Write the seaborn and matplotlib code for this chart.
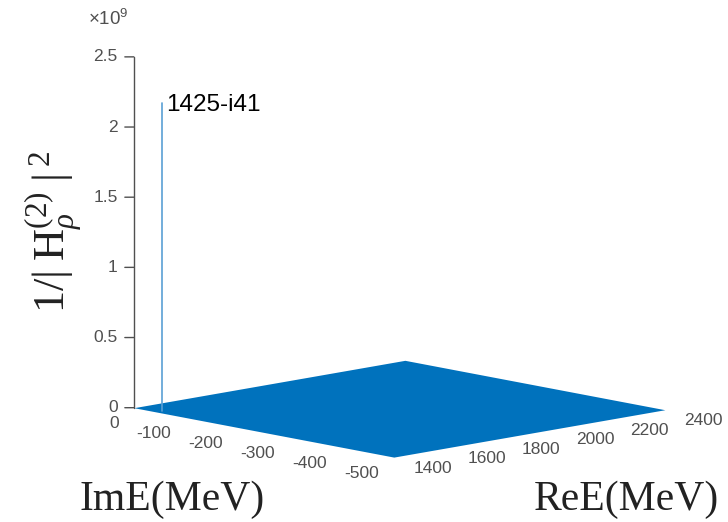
import numpy as np
import matplotlib
matplotlib.use("Agg")
import matplotlib.pyplot as plt
import seaborn as sns

# ---- data ----
re_grid = [1400, 2400]            # ReE (MeV) extent of the surface
im_grid = [0, -500]               # ImE (MeV) extent of the surface
floor_z = [[0.0, 0.0], [0.0, 0.0]]  # |1/H|^2 away from the pole (~0 on this scale)
pole_re = [1425]
pole_im = [-41]
pole_height = [2.19e9]
pole_label = ["1425-i41"]
im_ticks = [0, -100, -200, -300, -400, -500]
re_ticks = [1400, 1600, 1800, 2000, 2200, 2400]
z_ticks = [0, 0.5e9, 1.0e9, 1.5e9, 2.0e9, 2.5e9]
z_ticklabels = ["0", "0.5", "1", "1.5", "2", "2.5"]

sns.set_theme(style="white")
plt.rcParams["font.family"] = ["Liberation Sans", "DejaVu Sans"]
plt.rcParams["mathtext.fontset"] = "custom"
plt.rcParams["mathtext.rm"] = "Liberation Serif"
plt.rcParams["mathtext.it"] = "Liberation Serif:italic"
plt.rcParams["mathtext.bf"] = "Liberation Serif:bold"
plt.rcParams["mathtext.sf"] = "Liberation Sans"

surf_color = "#0072BD"
spike_color = "#5a9fd4"
grey = "#505050"
dark = "#222222"

fig = plt.figure(figsize=(7.28, 5.22), dpi=100)
ax = fig.add_axes([-0.058, -0.058, 1.19, 1.19], projection="3d")
ax.set_proj_type("ortho")
ax.view_init(elev=10.5, azim=-133.8)
ax.set_box_aspect((1, 1, 0.95))
ax.set_axis_off()

RE, IM = np.meshgrid(re_grid, im_grid)
Z = np.array(floor_z)
ax.plot_surface(RE, IM, Z, color=surf_color, shade=False, linewidth=0,
                antialiased=False)

for r, i, h, lab in zip(pole_re, pole_im, pole_height, pole_label):
    ax.plot([r, r], [i, i], [0, h], color=spike_color, lw=1.2)
    ax.text(r + 15, i, h - 0.02e9, lab, fontsize=17.5, color="black",
            ha="left", va="center")

ax.set_xlim(re_grid[0], re_grid[1])
ax.set_ylim(im_grid[1], im_grid[0])
ax.set_zlim(0, 2.5e9)

# z axis line and ticks at the (Re=1400, Im=0) corner
r0, i0 = re_grid[0], im_grid[0]
ax.plot([r0, r0], [i0, i0], [0, z_ticks[-1]], color=grey, lw=1)
for zt, zl in zip(z_ticks, z_ticklabels):
    ax.plot([r0, r0 - 17.4], [i0, i0 + 8.2], [zt, zt], color=grey, lw=1)
    ax.text(r0 - 31, i0 + 14.5, zt, zl, fontsize=12.5, color=grey,
            ha="right", va="center")
ax.text(r0 - 10, i0 + 5, 2.77e9, r"$\mathsf{\times 10^{9}}$", fontsize=13.5,
        color=grey, ha="right", va="center")

# ImE tick labels along the Re=1400 edge
for t in im_ticks:
    ax.text(r0 - 55, t, -0.096e9, str(t), fontsize=12.5, color=grey,
            ha="right", va="center")
# ReE tick labels along the Im=-500 edge
for t in re_ticks:
    ax.text(t, im_grid[1] - 38, -0.053e9, str(t), fontsize=12.5, color=grey,
            ha="left", va="center")

fig.text(0.236, 0.042, "ImE(MeV)", fontsize=30, family="Liberation Serif",
         color=dark, ha="center", va="center")
fig.text(0.86, 0.042, "ReE(MeV)", fontsize=30, family="Liberation Serif",
         color=dark, ha="center", va="center")
fig.text(0.074, 0.556, r"$1/|\;\mathrm{H}_{\rho}^{(2)}\;|^{\;2}$",
         fontsize=32, rotation=90, color=dark, ha="center", va="center")

fig.savefig("out.png", dpi=100, facecolor="white")
